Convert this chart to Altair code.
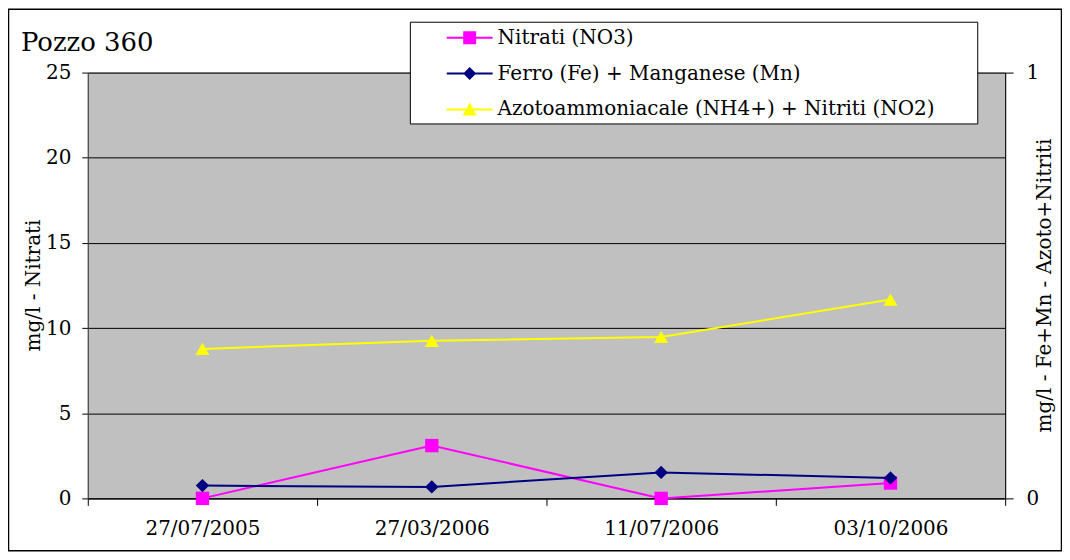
import altair as alt
import pandas as pd

# ---- data ----
chart_title = "Pozzo 360"
dates = ["27/07/2005", "27/03/2006", "11/07/2006", "03/10/2006"]
nitrati = [0.0, 3.1, 0.0, 0.9]                  # left axis (mg/l)
ferro_mn = [0.030, 0.027, 0.061, 0.048]         # right axis
azoto_nitriti = [0.351, 0.370, 0.379, 0.467]    # right axis

series = ["Nitrati (NO3)", "Ferro (Fe) + Manganese (Mn)",
          "Azotoammoniacale (NH4+) + Nitriti (NO2)"]
colors = ["#FF00FF", "#000080", "#FFFF00"]

left_ticks = [0, 5, 10, 15, 20, 25]
right_ticks = [0, 1]

# legend glyphs: a short line with the marker in the middle (custom symbol paths)
leg_paths = [
    "M2,-0.1H6.6V0.1H2Z M3.65,-0.65H4.95V0.65H3.65Z",
    "M2,-0.1H6.6V0.1H2Z M4.3,-0.65L4.95,0L4.3,0.65L3.65,0Z",
    "M2,-0.1H6.6V0.1H2Z M4.3,-0.7L5.0,0.6L3.6,0.6Z",
]

FONT = "DejaVu Serif"
W, H = 920, 427

df_n = pd.DataFrame({"data": dates, "valore": nitrati})
df_f = pd.DataFrame({"data": dates, "valore": ferro_mn})
df_a = pd.DataFrame({"data": dates, "valore": azoto_nitriti})
df_leg = pd.DataFrame({"serie": series})
df_title = pd.DataFrame({"t": [chart_title]})
df_one = pd.DataFrame({"k": [0]})

x_enc = alt.X(
    "data:N", sort=dates, bandPosition=0.5,
    scale=alt.Scale(type="band", domain=dates, paddingInner=0, paddingOuter=0),
    axis=alt.Axis(title=None, tickBand="extent", tickSize=7, tickColor="black",
                  domainColor="black", labelFontSize=20, labelFont=FONT,
                  labelColor="black", labelPadding=13, grid=False, labelAngle=0),
)

y_left = alt.Y(
    "valore:Q", scale=alt.Scale(domain=[0, 25], nice=False),
    axis=alt.Axis(title="mg/l - Nitrati", values=left_ticks, orient="left",
                  grid=True, gridColor="black", gridWidth=1, tickSize=6,
                  tickColor="black", domainColor="#404040", labelFontSize=20,
                  labelFont=FONT, labelColor="black", labelPadding=11,
                  titleFont=FONT, titleFontSize=20, titleFontWeight="normal",
                  titleColor="black", titleAngle=270, titleX=-54, titleY=213,
                  titleAlign="center", titleBaseline="middle"),
)

y_right = alt.Y(
    "valore:Q", scale=alt.Scale(domain=[0, 1], nice=False),
    axis=alt.Axis(title="mg/l - Fe+Mn - Azoto+Nitriti", values=right_ticks,
                  format=".0f", orient="right", grid=False, tickSize=8,
                  tickColor="black", domainColor="black", labelFontSize=20,
                  labelFont=FONT, labelColor="black", labelPadding=13,
                  titleFont=FONT, titleFontSize=20, titleFontWeight="normal",
                  titleColor="black", titleAngle=270, titleX=39, titleY=213,
                  titleAlign="center", titleBaseline="middle"),
)

def series_layers(df, y, color, shape, size):
    line = alt.Chart(df).mark_line(color=color, strokeWidth=2).encode(x=x_enc, y=y)
    pts = alt.Chart(df).mark_point(shape=shape, filled=True, opacity=1,
                                   color=color, size=size).encode(x=x_enc, y=y)
    return line, pts

ln, pn = series_layers(df_n, y_left, colors[0], "square", 180)
lf, pf = series_layers(df_f, y_right, colors[1], "diamond", 180)
la, pa = series_layers(df_a, y_right, colors[2], "triangle-up", 200)

left = alt.layer(ln, pn)
right = alt.layer(lf, pf, la, pa)

legend_layer = alt.Chart(df_leg).transform_filter("false").mark_point(
    filled=True, opacity=1).encode(
    color=alt.Color("serie:N", scale=alt.Scale(domain=series, range=colors),
                    legend=alt.Legend(title=None)),
    shape=alt.Shape("serie:N", scale=alt.Scale(domain=series, range=leg_paths),
                    legend=alt.Legend(title=None)),
)

# white box behind the legend (decoration)
legend_box = alt.Chart(df_one).mark_rect(
    fill="white", stroke="black", strokeWidth=1).encode(
    x=alt.value(323.5), x2=alt.value(892.5),
    y=alt.value(-50.5), y2=alt.value(51.5))

title_layer = alt.Chart(df_title).mark_text(
    align="left", baseline="alphabetic", fontSize=26, font=FONT, color="black"
).encode(text="t:N", x=alt.value(-67), y=alt.value(-22))

frame = alt.Chart(df_one).mark_rect(
    fillOpacity=0, stroke="black", strokeWidth=1.5).encode(
    x=alt.value(-79.5), x2=alt.value(W + 56.5),
    y=alt.value(-63.5), y2=alt.value(H + 52.5))

chart = alt.layer(frame, title_layer, left, right, legend_box,
                  legend_layer).resolve_scale(
    y="independent"
).properties(
    width=W, height=H,
    autosize=alt.AutoSizeParams(type="none"),
    padding={"left": 80, "top": 64, "right": 57, "bottom": 53},
    view=alt.ViewBackground(fill="#C0C0C0", stroke="#808080", strokeWidth=1),
).configure(
    font=FONT, background="white"
).configure_legend(
    orient="none", legendX=324, legendY=-51, padding=6, rowPadding=16,
    symbolSize=400, symbolStrokeWidth=0, symbolOpacity=1,
    labelFont=FONT, labelFontSize=20, labelColor="black", labelOffset=61,
    labelLimit=0,
)

chart.save("out.html", embed_options={"renderer": "svg", "actions": False})
